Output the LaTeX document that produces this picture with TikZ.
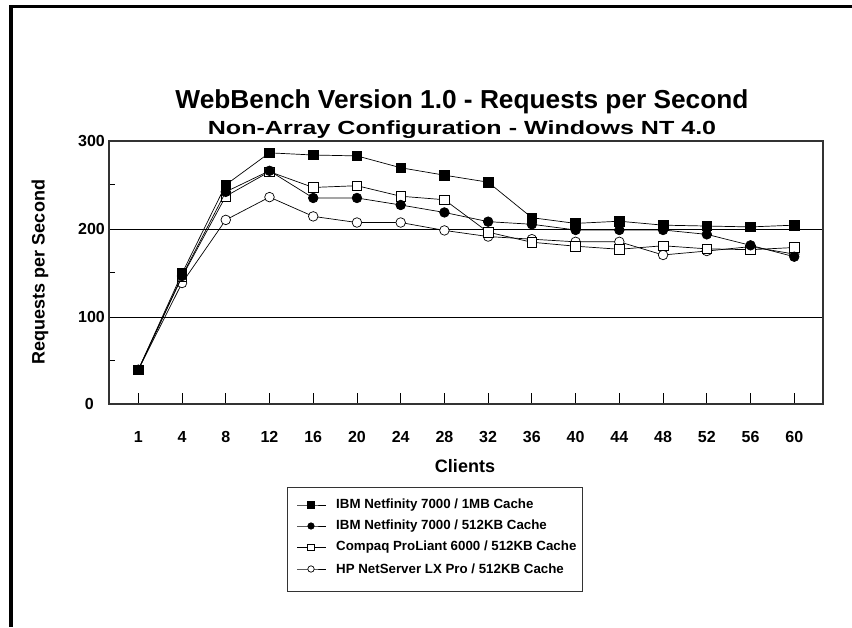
\documentclass[tikz,border=0pt]{standalone}
\usepackage{fontspec}
\setmainfont{Liberation Sans}
\usetikzlibrary{plotmarks}
\tikzset{
  ser/.style={black, line width=0.7pt, mark size=4.8pt},
  fsq/.style={ser, mark=square*, mark options={fill=black, solid}},
  fci/.style={ser, mark=*, mark options={fill=black, solid}},
  osq/.style={ser, mark=square*, mark options={fill=white, solid}},
  oci/.style={ser, mark=*, mark options={fill=white, solid}},
  axlab/.style={font=\bfseries\fontsize{16}{19}\selectfont, inner sep=0pt},
  leglab/.style={font=\bfseries\fontsize{13.3}{16}\selectfont, anchor=west, inner sep=0pt},
}
\begin{document}
\begin{tikzpicture}[x=1pt,y=-1pt]
\useasboundingbox (0,0) rectangle (852,627);
\fill[white] (0,0) rectangle (852,627);
% frame
\fill[black] (9,5) rectangle (13,627);
\fill[black] (9,5) rectangle (852,8);
% titles
\node[font=\bfseries\fontsize{26}{30}\selectfont, inner sep=0pt, xscale=1.01] (title) at (462,102) {WebBench Version 1.0 - Requests per Second};
\node[font=\bfseries\fontsize{19}{23}\selectfont, inner sep=0pt, xscale=1.32] (sub) at (462,130) {Non-Array Configuration - Windows NT 4.0};
% plot frame and grid
\draw[black, line width=0.8pt] (109,229) -- (823,229);
\draw[black, line width=0.8pt] (109,317) -- (823,317);
\foreach \v in {50,150,250} \draw[line width=0.8pt] (109,{404-0.8767*\v}) -- (115,{404-0.8767*\v});
\foreach \i in {0,...,15} \draw[line width=0.8pt] ({138.3+43.73*\i},404) -- ({138.3+43.73*\i},393);
\draw[black!80, line width=1.2pt] (109,141) rectangle (823,404);
% y labels
\node[axlab, anchor=east] (y300) at (105,141) {300};
\node[axlab, anchor=east] (y200) at (105,229) {200};
\node[axlab, anchor=east] (y100) at (105,317) {100};
\node[axlab, anchor=east] (y0) at (94,404) {0};
\node[axlab, font=\bfseries\fontsize{18}{21}\selectfont, rotate=90] (ylab) at (40,272) {Requests per Second};
% x labels
\foreach \c [count=\i from 0] in {1,4,8,12,16,20,24,28,32,36,40,44,48,52,56,60}
  \node[axlab] (x\c) at ({138.3+43.73*\i},437) {\c};
\node[axlab, font=\bfseries\fontsize{18}{21}\selectfont] (xlab) at (465,466) {Clients};
% data
\begin{scope}[shift={(138.3,404)}, x=43.73pt, y=0.8767pt]
\draw[oci] plot coordinates {(0,39) (1,138) (2,210) (3,236) (4,214) (5,207) (6,207) (7,198) (8,191) (9,188) (10,185) (11,185) (12,170) (13,174.5) (14,179.5) (15,171)};
\draw[osq] plot coordinates {(0,39) (1,145) (2,237) (3,265) (4,247) (5,249) (6,237) (7,233) (8,196) (9,184.5) (10,180) (11,176.5) (12,180.5) (13,177) (14,176) (15,178.5)};
\draw[fci] plot coordinates {(0,39) (1,146) (2,242) (3,266) (4,235) (5,235) (6,227) (7,218.5) (8,208) (9,205) (10,198.5) (11,198.5) (12,198.5) (13,193.5) (14,181) (15,168)};
\draw[fsq] plot coordinates {(0,39) (1,149) (2,250) (3,286.5) (4,284) (5,283) (6,269.5) (7,261) (8,253) (9,212.5) (10,206) (11,208.5) (12,204) (13,203) (14,202) (15,204)};
\end{scope}
% legend
\draw[black!80, line width=1pt] (287,487) rectangle (582,591);
\foreach \s/\yy/\t [count=\k] in {fsq/505/{IBM Netfinity 7000 / 1MB Cache}, fci/526/{IBM Netfinity 7000 / 512KB Cache}, osq/547.5/{Compaq ProLiant 6000 / 512KB Cache}, oci/569/{HP NetServer LX Pro / 512KB Cache}} {
  \draw[\s, mark size=3.2pt, mark indices={2}] plot coordinates {(297,\yy) (311,\yy) (326,\yy)} ;
  \node[leglab] (leg\k) at (336,\yy) {\t};
}
\end{tikzpicture}
\end{document}
